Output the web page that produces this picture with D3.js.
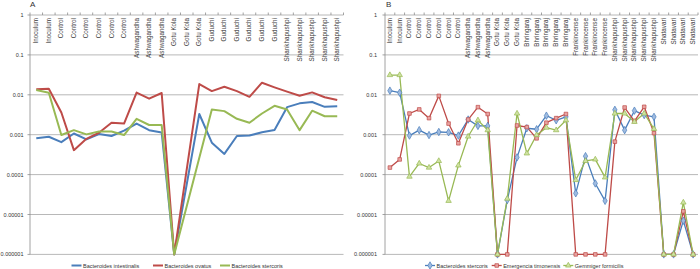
<!DOCTYPE html>
<html>
<head>
<meta charset="utf-8">
<script src="https://cdn.jsdelivr.net/npm/d3@7"></script>
<style>
  body { margin: 0; background: #fff; }
  svg { display: block; font-family: "Liberation Sans", Arial, sans-serif; }
</style>
</head>
<body>
<svg id="chart"></svg>
<script>
// Axis values
const yTicks = [1, 0.1, 0.01, 0.001, 0.0001, 0.00001, 0.000001];
const yTickLabels = ["1", "0.1", "0.01", "0.001", "0.0001", "0.00001", "0.000001"];

// Panel A
const catsA = ["Inoculum", "Inoculum", "Control", "Control", "Control", "Control", "Control", "Control",
  "Ashwagandha", "Ashwagandha", "Ashwagandha", "Gotu Kola", "Gotu Kola", "Gotu Kola",
  "Guduchi", "Guduchi", "Guduchi", "Guduchi", "Guduchi", "Guduchi",
  "Shankhapushpi", "Shankhapushpi", "Shankhapushpi", "Shankhapushpi", "Shankhapushpi"];
const seriesNamesA = ["Bacteroides intestinalis", "Bacteroides ovatus", "Bacteroides stercoris"];
const aIntestinalis = [0.00081, 0.00089, 0.00065, 0.00107, 0.00076, 0.00104, 0.00093, 0.00126, 0.0019, 0.0013, 0.00114,
  0.000001, null, 0.0033, 0.00063, 0.00033, 0.00093, 0.00095, 0.00115, 0.00131, 0.0049, 0.0061, 0.0066, 0.005, 0.0052];
const aOvatus = [0.0137, 0.0142, 0.0036, 0.00041, 0.00079, 0.00112, 0.002, 0.0019, 0.0114, 0.008, 0.0111,
  0.000001, null, 0.0186, 0.0124, 0.0159, 0.0124, 0.0089, 0.0201, 0.0154, 0.012, 0.0095, 0.0115, 0.0087, 0.0074];
const aStercoris = [0.0132, 0.0113, 0.00098, 0.0013, 0.00102, 0.0012, 0.0012, 0.00098, 0.0025, 0.00175, 0.00175,
  0.000001, null, null, 0.0043, 0.0039, 0.0025, 0.002, 0.0034, 0.0053, 0.0043, 0.0013, 0.004, 0.0029, 0.0029];

// Panel B
const catsB = ["Inoculum", "Inoculum", "Control", "Control", "Control", "Control", "Control", "Control",
  "Ashwagandha", "Ashwagandha", "Ashwagandha", "Gotu Kola", "Gotu Kola", "Gotu Kola",
  "Bhringaraj", "Bhringaraj", "Bhringaraj", "Bhringaraj", "Bhringaraj",
  "Frankincense", "Frankincense", "Frankincense", "Frankincense",
  "Shankhapushpi", "Shankhapushpi", "Shankhapushpi", "Shankhapushpi", "Shankhapushpi",
  "Shatavari", "Shatavari", "Shatavari", "Shatavari"];
const seriesNamesB = ["Bacteroides stercoris", "Emergencia timonensis", "Gemmiger formicilis"];
const bStercoris = [0.0127, 0.0113, 0.00095, 0.0013, 0.00098, 0.00117, 0.00115, 0.00095, 0.0024, 0.00166, 0.00166,
  0.000001, 0.000023, 0.00027, 0.00145, 0.00137, 0.003, 0.0023, 0.0028,
  0.000034, 0.00029, 0.00006, 0.000022,
  0.0042, 0.0013, 0.004, 0.0031, 0.0028,
  0.000001, 0.000001, 0.000007, 0.000001];
const bEmergencia = [0.00015, 0.00024, 0.0034, 0.0043, 0.0026, 0.0094, 0.0019, 0.00061, 0.0024, 0.0049, 0.0033,
  0.000001, 0.000001, 0.0017, 0.00155, 0.00081, 0.002, 0.0026, 0.0033,
  0.000001, 0.000001, 0.000001, 0.000001,
  0.00067, 0.0048, 0.0022, 0.005, 0.0011,
  0.000001, 0.000001, 0.000012, 0.000001];
const bGemmiger = [0.0313, 0.0313, 0.000089, 0.00019, 0.00015, 0.00022, 0.000022, 0.00017, 0.0009, 0.0023, 0.0013,
  0.000001, 0.000025, 0.0034, 0.00034, 0.00098, 0.0015, 0.0013, 0.0023,
  0.000073, 0.00022, 0.00024, 0.000085,
  0.0034, 0.0034, 0.0021, 0.0034, 0.0014,
  0.000001, 0.000001, 0.00002, 0.000001];

const W = 700, H = 269;
const colors = ["#4a7ebb", "#be4b48", "#98b954"];
const fills = ["#9fbbe0", "#e8a3a1", "#cfe2a2"];
const symbols = [d3.symbolDiamond, d3.symbolSquare, d3.symbolTriangle];

const svg = d3.select("#chart").attr("width", W).attr("height", H);

function drawPanel(opt) {
  const g = svg.append("g");
  const top = 15, bottom = 254.4;

  const x = d3.scaleBand().domain(d3.range(opt.cats.length)).range([opt.left, opt.right]);
  const cx = i => x(i) + x.bandwidth() / 2;
  const y = d3.scaleLog().domain([1e-6, 1]).range([bottom, top]);

  // gridlines
  g.selectAll(".grid").data(yTicks).join("line")
    .attr("x1", opt.left).attr("x2", opt.right)
    .attr("y1", d => y(d)).attr("y2", d => y(d))
    .attr("stroke", "#a6a6a6").attr("stroke-width", 0.8);

  // y axis
  g.append("line")
    .attr("x1", opt.left).attr("x2", opt.left)
    .attr("y1", top).attr("y2", bottom)
    .attr("stroke", "#8c8c8c").attr("stroke-width", 0.8);
  g.selectAll(".ytick").data(yTicks).join("line")
    .attr("x1", opt.left - 2.5).attr("x2", opt.left)
    .attr("y1", d => y(d)).attr("y2", d => y(d))
    .attr("stroke", "#8c8c8c").attr("stroke-width", 0.8);
  g.selectAll(".ylab").data(yTicks).join("text")
    .attr("x", opt.labelX).attr("y", d => y(d) + 2)
    .attr("text-anchor", "end")
    .attr("font-size", 5.5).attr("fill", "#333")
    .text((d, i) => yTickLabels[i]);

  // category ticks on the top axis
  g.selectAll(".xtick").data(d3.range(opt.cats.length + 1)).join("line")
    .attr("x1", i => opt.left + i * x.step()).attr("x2", i => opt.left + i * x.step())
    .attr("y1", top - 2.5).attr("y2", top)
    .attr("stroke", "#8c8c8c").attr("stroke-width", 0.8);

  // category labels
  g.selectAll(".xlab").data(opt.cats).join("text")
    .attr("transform", (d, i) => "translate(" + (cx(i) + 2) + "," + (top + 3) + ") rotate(-90)")
    .attr("text-anchor", "end")
    .attr("font-size", 6.3).attr("fill", "#3a3a3a")
    .text(d => d);

  // series lines
  const line = d3.line().x(d => cx(d.i)).y(d => y(d.v));
  opt.series.forEach((vals, k) => {
    const pts = vals.map((v, i) => ({ i: i, v: v })).filter(d => d.v != null);
    g.append("path").datum(pts)
      .attr("d", line)
      .attr("fill", "none")
      .attr("stroke", colors[k])
      .attr("stroke-width", opt.lineWidth)
      .attr("stroke-linejoin", "round");
  });

  // markers
  if (opt.markers) {
    opt.series.forEach((vals, k) => {
      const pts = vals.map((v, i) => ({ i: i, v: v })).filter(d => d.v != null);
      g.selectAll(".m" + k).data(pts).join("path")
        .attr("d", d3.symbol().type(symbols[k]).size(k === 0 ? 16 : 13))
        .attr("transform", d => "translate(" + cx(d.i) + "," + y(d.v) + ")")
        .attr("fill", fills[k])
        .attr("stroke", colors[k])
        .attr("stroke-width", 0.7);
    });
  }

  // panel letter
  g.append("text")
    .attr("x", opt.letterX).attr("y", 7)
    .attr("font-size", 8).attr("fill", "#333")
    .text(opt.letter);

  // legend
  const ly = 265.5;
  opt.names.forEach((name, k) => {
    const lx = opt.legendX[k];
    g.append("line")
      .attr("x1", lx).attr("x2", lx + 10)
      .attr("y1", ly).attr("y2", ly)
      .attr("stroke", colors[k]).attr("stroke-width", opt.lineWidth);
    if (opt.markers) {
      g.append("path")
        .attr("d", d3.symbol().type(symbols[k]).size(k === 0 ? 16 : 13))
        .attr("transform", "translate(" + (lx + 5) + "," + ly + ")")
        .attr("fill", fills[k]).attr("stroke", colors[k]).attr("stroke-width", 0.7);
    }
    g.append("text")
      .attr("x", lx + 11.5).attr("y", ly + 2)
      .attr("font-size", 5.5).attr("fill", "#333")
      .text(name);
  });
}

drawPanel({
  left: 30, right: 343.5, labelX: 23.5, letter: "A", letterX: 30,
  cats: catsA, series: [aIntestinalis, aOvatus, aStercoris], names: seriesNamesA,
  lineWidth: 2, markers: false, legendX: [71.5, 153, 220]
});

drawPanel({
  left: 385, right: 698, labelX: 377, letter: "B", letterX: 386,
  cats: catsB, series: [bStercoris, bEmergencia, bGemmiger], names: seriesNamesB,
  lineWidth: 1.3, markers: true, legendX: [425, 491.7, 563.3]
});
</script>
</body>
</html>
